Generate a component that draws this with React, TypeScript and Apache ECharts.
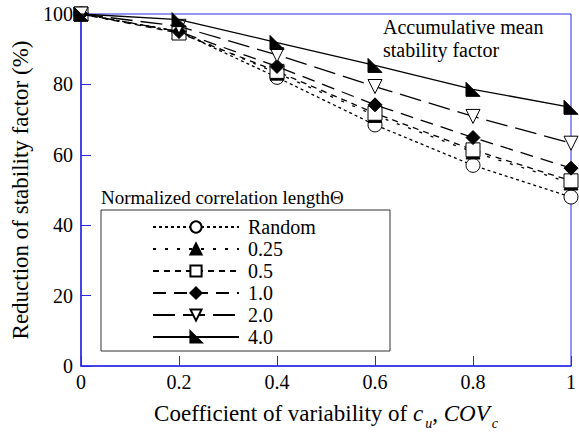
import React, { useEffect, useRef } from "react";
import * as echarts from "echarts";

const xValues = [0, 0.2, 0.4, 0.6, 0.8, 1];
const seriesNames = ["Random", "0.25", "0.5", "1.0", "2.0", "4.0"];
const randomVals = [100, 95, 82, 68.5, 57, 48];
const theta025 = [100, 95, 83.2, 71.2, 60.8, 52];
const theta05 = [100, 94.6, 83.7, 71.8, 61.4, 52.6];
const theta1 = [100, 95, 85.1, 74.2, 64.9, 56.2];
const theta2 = [100, 96.5, 88.4, 79.4, 70.9, 63.3];
const theta4 = [100, 98.4, 91.9, 85.4, 78.6, 73.5];

const FONT = "serif";
const BLUE = "#2a2ae6";

export default function App() {
  const ref = useRef<HTMLDivElement>(null);
  useEffect(() => {
    if (!ref.current) return;
    const chart = echarts.init(ref.current, null, { renderer: "svg" });
    const pair = (vals: number[]) => xValues.map((x, i) => [x, vals[i]]);
    const mk = (
      name: string,
      vals: number[],
      symbol: string,
      filled: boolean,
      dash: any,
      z: number,
      rotate = 0
    ) => ({
      type: "line",
      name,
      data: pair(vals),
      symbol,
      symbolSize: 14,
      symbolRotate: rotate,
      symbolKeepAspect: true,
      showSymbol: true,
      z,
      lineStyle: { color: "#000", width: 1.3, type: dash },
      itemStyle: {
        color: filled ? "#000" : "#fff",
        borderColor: "#000",
        borderWidth: 1,
      },
      emphasis: { disabled: true },
    });
    chart.setOption({
      animation: false,
      textStyle: { fontFamily: FONT },
      grid: {
        left: 81,
        right: 7,
        top: 14,
        bottom: 72,
        show: true,
        borderColor: BLUE,
        borderWidth: 1,
      },
      xAxis: {
        type: "value",
        min: 0,
        max: 1,
        interval: 0.2,
        axisLine: { lineStyle: { color: BLUE, width: 1.5 } },
        axisTick: { inside: true, length: 10, lineStyle: { color: BLUE } },
        splitLine: { show: false },
        axisLabel: { color: "#000", fontSize: 20, fontFamily: FONT, margin: 6 },
        name: "{n|Coefficient of variability of }{i|c}{s|u}{n|, }{i|COV}{s|c}",
        nameLocation: "middle",
        nameGap: 30,
        nameTextStyle: {
          fontFamily: FONT,
          rich: {
            n: { fontSize: 23, fontFamily: FONT, color: "#000" },
            i: { fontSize: 23, fontFamily: FONT, fontStyle: "italic", color: "#000" },
            s: { fontSize: 14, fontFamily: FONT, fontStyle: "italic", color: "#000", padding: [20, 0, 0, 2] },
          },
        },
      },
      yAxis: {
        type: "value",
        min: 0,
        max: 100,
        interval: 20,
        axisLine: { show: true, lineStyle: { color: BLUE, width: 1.5 } },
        axisTick: { show: true, inside: true, length: 10, lineStyle: { color: BLUE } },
        splitLine: { show: false },
        axisLabel: { color: "#000", fontSize: 20, fontFamily: FONT, margin: 8 },
        name: "Reduction of stability factor (%)",
        nameLocation: "middle",
        nameGap: 44,
        nameTextStyle: { fontSize: 23, fontFamily: FONT, color: "#000" },
      },
      legend: {
        orient: "vertical",
        left: 147,
        top: 212,
        itemWidth: 86,
        itemHeight: 14,
        itemGap: 2,
        selectedMode: false,
        data: seriesNames,
        textStyle: { fontSize: 20, fontFamily: FONT, color: "#000", padding: [0, 0, 0, 4] },
      },
      graphic: [
        {
          type: "rect",
          shape: { x: 101, y: 210, width: 289, height: 141 },
          style: { fill: "none", stroke: "#333", lineWidth: 1 },
          z: 1,
        },
        {
          type: "text",
          x: 101,
          y: 197,
          style: {
            text: "Normalized correlation length\u0398",
            fontSize: 19,
            fontFamily: FONT,
            fill: "#000",
            verticalAlign: "middle",
          },
        },
        {
          type: "text",
          x: 383,
          y: 15,
          style: {
            text: "Accumulative mean\nstability factor",
            fontSize: 20,
            fontFamily: FONT,
            lineHeight: 23,
            fill: "#000",
          },
        },
      ],
      series: [
        mk("Random", randomVals, "circle", false, [3, 3], 2),
        mk("0.25", theta025, "triangle", true, [3, 9], 3),
        mk("0.5", theta05, "rect", false, [6, 5], 4),
        mk("1.0", theta1, "diamond", true, [13, 8], 5),
        mk("2.0", theta2, "triangle", false, [22, 8], 6, 180),
        mk("4.0", theta4, "path://M0,0 L0,10 L10,10 Z", true, "solid", 7),
      ],
    });
    return () => chart.dispose();
  }, []);
  return (
    <div style={{ position: "absolute", left: 0, top: 0 }}>
      <div ref={ref} style={{ width: 579, height: 438 }} />
    </div>
  );
}
